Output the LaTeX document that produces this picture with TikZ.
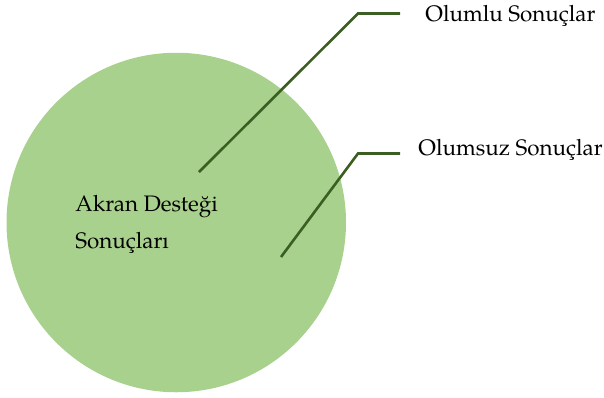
\documentclass[tikz,border=0pt]{standalone}
\usepackage{fontspec}
\setmainfont{texgyrepagella}[Extension=.otf, UprightFont=*-regular]
\definecolor{circlegreen}{HTML}{A9D18E}
\definecolor{linegreen}{HTML}{3B5E22}

\begin{document}
\begin{tikzpicture}[x=0.5pt,y=-0.5pt]
\tikzset{Leader/.style = {draw=linegreen, line width=1.3pt},
  Label/.style = {anchor=base west, inner sep=0pt, font=\fontsize{11.2}{13}\selectfont}}
\useasboundingbox (0,0) rectangle (604,397);
\node[circle, fill=circlegreen, minimum size=339.5*0.5pt, inner sep=0pt] (circ) at (176.25,222.5) {};
\node[Label] (akran) at (75,211.5) {Akran Desteği};
\node[Label] (sonuc) at (75,248.5) {Sonuçları};
\node[Label] (olumlu) at (425,21.5) {Olumlu Sonuçlar};
\node[Label] (olumsuz) at (418,155.5) {Olumsuz Sonuçlar};
\coordinate (p1) at (199,172); \coordinate (k1) at (358,13.5); \coordinate (e1) at (400,13.5);
\coordinate (p2) at (281,257); \coordinate (k2) at (358,153.5); \coordinate (e2) at (400,153.5);
\draw[Leader] (p1) -- (k1) -- (e1);
\draw[Leader] (p2) -- (k2) -- (e2);
\end{tikzpicture}
\end{document}
